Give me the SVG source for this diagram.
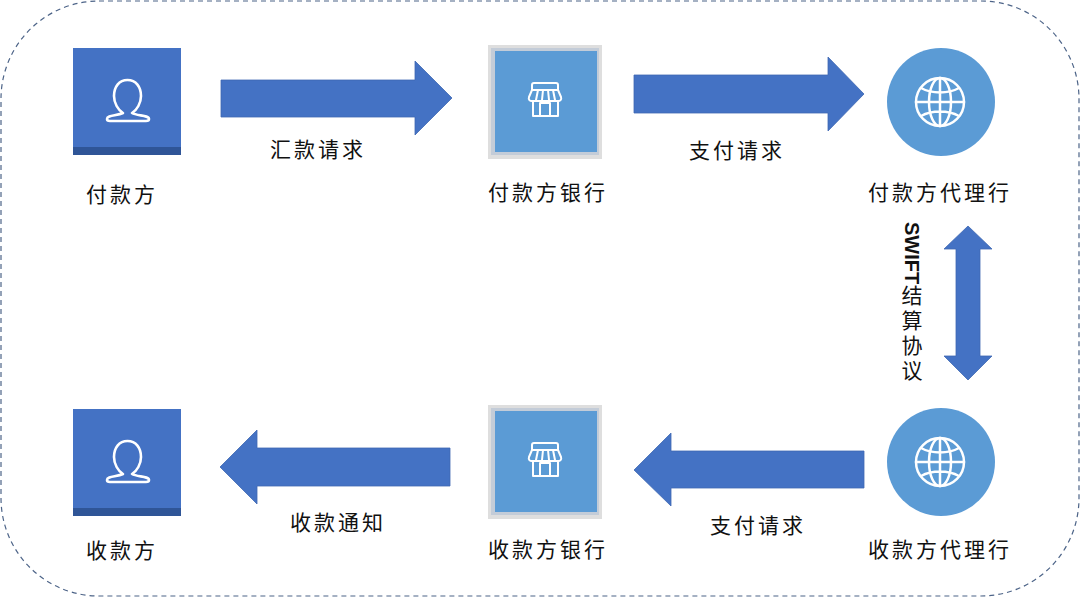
<svg xmlns="http://www.w3.org/2000/svg" xmlns:xlink="http://www.w3.org/1999/xlink" width="1080" height="597" viewBox="0 0 1080 597">
<style>
.t{font-family:"Noto Sans CJK SC","Noto Sans CJK TC",sans-serif;font-size:21px;letter-spacing:3px;fill:#111;text-anchor:middle;font-weight:400}
.v{font-family:"Noto Sans CJK SC","Noto Sans CJK TC",sans-serif;font-size:21px;letter-spacing:4px;fill:#111;writing-mode:vertical-rl}
.l{font-family:"Liberation Sans",sans-serif;font-size:20px;font-weight:bold;letter-spacing:0}
.a{fill:#4472c4;stroke:#3f68b3;stroke-width:.8}
.i{fill:none;stroke:#fff;stroke-linejoin:round;stroke-linecap:round}
</style>
<defs>
<g id="person">
<rect x="73" y="48" width="108" height="107" fill="#4472c4"/>
<rect x="73" y="147" width="108" height="8" fill="#2f5597"/>
<path class="i" stroke-width="2.600" d="M127.500 80C119 80 114 87 114 96C114 103 118 110 123 113C117 116 107 115 107 119C107 120.500 108 121 110 121H146C148 121 149 120.500 149 119C149 115 137 116 132 113C137 110 141 103 141 96C141 87 136 80 127.500 80Z"/>
</g>
<g id="bank">
<rect x="488" y="45" width="114" height="114" fill="#dedede"/>
<rect x="491" y="48" width="108" height="107" fill="#c3ccd8"/>
<rect x="495" y="51" width="102" height="101" fill="#5b9bd5"/>
<g class="i" stroke-width="2">
<path d="M532 90V85C532 84 533 83 534 83H556C557 83 558 84 558 85V90Z"/>
<path d="M532 90L529 97C528 100 530 101 532 101H558C560 101 562 100 561 97L558 90"/>
<path d="M538 90L536 100M543 90L542 100M548 90L549 100M553 90L555 100"/>
<path d="M533 101V116H558V101M540 116V103H550V116"/>
</g>
</g>
<g id="globe">
<circle cx="941" cy="102" r="54" fill="#5b9bd5"/>
<g class="i" stroke-width="2.500">
<circle cx="940" cy="102" r="24"/>
<ellipse cx="940" cy="102" rx="11" ry="24"/>
<path d="M940 78V126M916 102H964M921 88C932 94 948 94 959 88M921 116C932 110 948 110 959 116"/>
</g>
</g>
</defs>
<rect x="1" y="1" width="1078" height="595" rx="98" ry="98" fill="#fff" stroke="#4d6488" stroke-width="1.200" stroke-dasharray="5 4"/>
<g id="connectors">
<path class="a" d="M221 80H415V61L452 98L415 135V117H221Z"/>
<path class="a" d="M634 75H828V57L864 94L828 131V113H634Z"/>
<path class="a" d="M956 249H944L968 226L992 249H980V356H992L968 380L944 356H956Z"/>
<path class="a" d="M450 448H257V430L220 467L257 504V486H450Z"/>
<path class="a" d="M864 451H671V433L634 470L671 506V488H864Z"/>
</g>
<g id="payer"><use xlink:href="#person" href="#person"/><text class="t" x="122" y="202">付款方</text></g>
<g id="payer-bank"><use xlink:href="#bank" href="#bank"/><text class="t" x="548" y="200">付款方银行</text></g>
<g id="payer-agent"><use xlink:href="#globe" href="#globe"/><text class="t" x="940" y="200">付款方代理行</text></g>
<g id="payee"><use xlink:href="#person" href="#person" y="361"/><text class="t" x="122" y="558">收款方</text></g>
<g id="payee-bank"><use xlink:href="#bank" href="#bank" y="360"/><text class="t" x="548" y="557">收款方银行</text></g>
<g id="payee-agent"><use xlink:href="#globe" href="#globe" y="360"/><text class="t" x="940" y="557">收款方代理行</text></g>
<g id="labels">
<text class="t" x="318" y="157">汇款请求</text>
<text class="t" x="737" y="158">支付请求</text>
<text class="t" x="338" y="530">收款通知</text>
<text class="t" x="758" y="533">支付请求</text>
<text class="v" x="912" y="222"><tspan class="l">SWIFT</tspan>结算协议</text>
</g>
</svg>
